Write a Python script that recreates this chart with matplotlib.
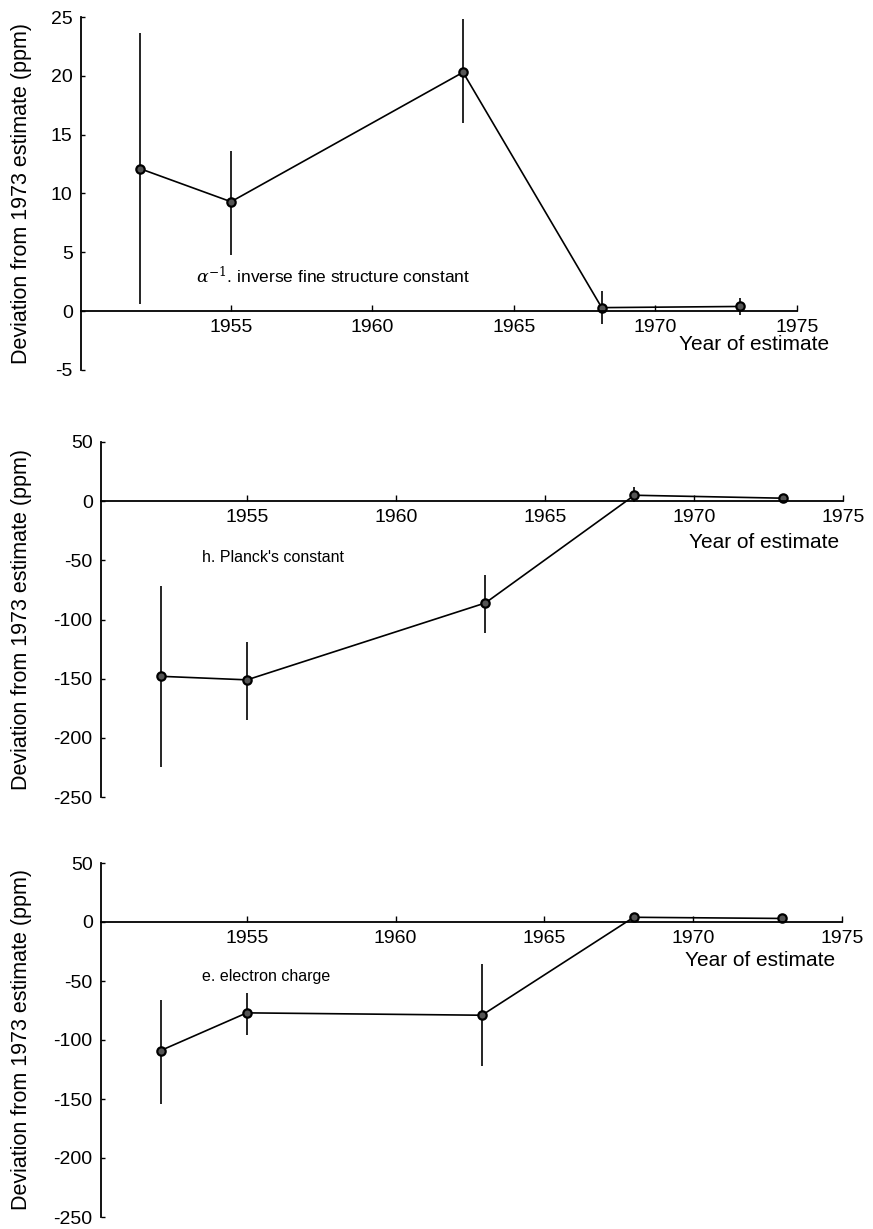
import matplotlib
matplotlib.use("Agg")
import matplotlib.pyplot as plt

plt.rcParams['font.family'] = ['Liberation Sans', 'DejaVu Sans']
plt.rcParams['mathtext.fontset'] = 'dejavuserif'

# Data
years_alpha = [1951.8, 1955.0, 1963.2, 1968.1, 1973.0]
alpha_dev = [12.1, 9.3, 20.3, 0.3, 0.4]
alpha_lo = [0.6, 4.8, 16.0, -1.1, -0.3]
alpha_hi = [23.6, 13.6, 24.8, 1.7, 1.1]

years_h = [1952.1, 1955.0, 1963.0, 1968.0, 1973.0]
h_dev = [-148, -151, -86, 5, 2.5]
h_lo = [-225, -185, -111, -1, 0]
h_hi = [-72, -119, -62, 12, 5]

years_e = [1952.1, 1955.0, 1962.9, 1968.0, 1973.0]
e_dev = [-109, -77, -79, 4, 3]
e_lo = [-154, -96, -122, 2, 1]
e_hi = [-66, -60, -36, 6, 5]

xticks = [1955, 1960, 1965, 1970, 1975]
ylabel = "Deviation from 1973 estimate (ppm)"

W, H = 873, 1229
fig = plt.figure(figsize=(W / 100, H / 100), dpi=100)


def make_ax(left_px, right_px, top_px, bottom_px):
    return fig.add_axes([left_px / W, 1 - bottom_px / H,
                         (right_px - left_px) / W, (bottom_px - top_px) / H])


panels = [
    dict(box=(81, 797, 17, 370), xlim=(1949.7, 1975.0), ylim=(-5, 25),
         yticks=[-5, 0, 5, 10, 15, 20, 25], x=years_alpha, y=alpha_dev,
         lo=alpha_lo, hi=alpha_hi,
         label=r"$\alpha^{-1}$. inverse fine structure constant", lsize=12.5,
         label_xy=(1953.75, 3.0), yoe=(1973.5, -2.8)),
    dict(box=(101, 843, 442, 797), xlim=(1950.1, 1975.0), ylim=(-250, 50),
         yticks=[-250, -200, -150, -100, -50, 0, 50], x=years_h, y=h_dev,
         lo=h_lo, hi=h_hi, label="h. Planck's constant", lsize=11.5,
         label_xy=(1953.5, -48), yoe=(1972.35, -35)),
    dict(box=(101, 842, 863, 1217), xlim=(1950.1, 1975.0), ylim=(-250, 50),
         yticks=[-250, -200, -150, -100, -50, 0, 50], x=years_e, y=e_dev,
         lo=e_lo, hi=e_hi, label="e. electron charge", lsize=11.5,
         label_xy=(1953.5, -46), yoe=(1972.25, -33)),
]

for p in panels:
    ax = make_ax(*p['box'])
    ax.set_xlim(*p['xlim'])
    ax.set_ylim(*p['ylim'])
    for s in ['top', 'right']:
        ax.spines[s].set_visible(False)
    ax.spines['bottom'].set_position(('data', 0))
    ax.spines['bottom'].set_linewidth(1.3)
    ax.spines['left'].set_linewidth(1.3)
    ax.set_xticks(xticks)
    ax.set_xticklabels([str(t) for t in xticks])
    ax.set_yticks(p['yticks'])
    ax.set_yticklabels([str(t) for t in p['yticks']])
    ax.tick_params(axis='x', direction='in', length=4, width=1.0,
                   labelsize=14, pad=6)
    ax.tick_params(axis='y', direction='in', length=3, width=1.0,
                   labelsize=14, pad=6)
    err_lo = [v - l for v, l in zip(p['y'], p['lo'])]
    err_hi = [h - v for v, h in zip(p['y'], p['hi'])]
    ax.errorbar(p['x'], p['y'], yerr=[err_lo, err_hi], fmt='none',
                ecolor='black', elinewidth=1.2, capsize=0)
    ax.plot(p['x'], p['y'], color='black', lw=1.2, marker='o', ms=6,
            mfc='#555555', mec='black', mew=1.6)
    ax.text(p['label_xy'][0], p['label_xy'][1], p['label'], fontsize=p['lsize'],
            ha='left', va='center')
    ax.text(p['yoe'][0], p['yoe'][1], "Year of estimate", fontsize=15,
            ha='center', va='center')
    ax.set_ylabel(ylabel, fontsize=15.5)
    ax.yaxis.set_label_coords(-(p['box'][0] - 32) / (p['box'][1] - p['box'][0]), 0.5)
    ax.patch.set_alpha(0)

fig.savefig("out.png", dpi=100)
